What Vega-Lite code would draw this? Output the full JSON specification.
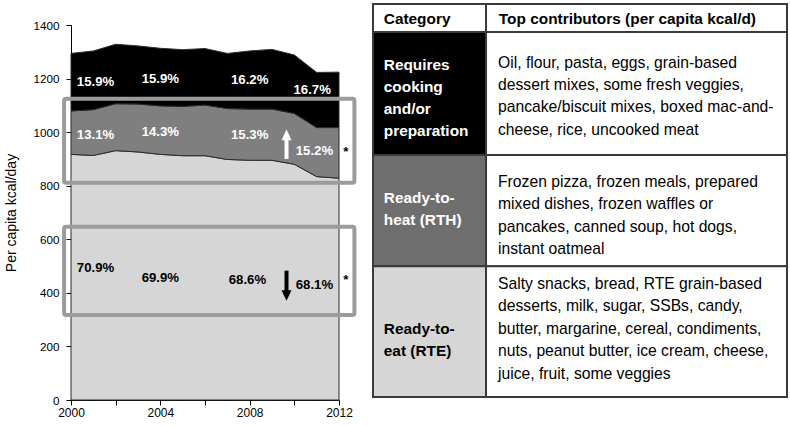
{
  "$schema": "https://vega.github.io/schema/vega-lite/v6.json",
  "background": "white",
  "padding": {"left": 4, "top": 3, "right": 3, "bottom": 4},
  "bounds": "flush",
  "spacing": 34,
  "config": {"view": {"stroke": null}, "font": "Liberation Sans"},
  "datasets": {
    "kcal": [
      {"year": 2000, "category": "Ready-to-eat (RTE)", "kcal": 917},
      {"year": 2001, "category": "Ready-to-eat (RTE)", "kcal": 913},
      {"year": 2002, "category": "Ready-to-eat (RTE)", "kcal": 931},
      {"year": 2003, "category": "Ready-to-eat (RTE)", "kcal": 926},
      {"year": 2004, "category": "Ready-to-eat (RTE)", "kcal": 917},
      {"year": 2005, "category": "Ready-to-eat (RTE)", "kcal": 912},
      {"year": 2006, "category": "Ready-to-eat (RTE)", "kcal": 912},
      {"year": 2007, "category": "Ready-to-eat (RTE)", "kcal": 898},
      {"year": 2008, "category": "Ready-to-eat (RTE)", "kcal": 895},
      {"year": 2009, "category": "Ready-to-eat (RTE)", "kcal": 895},
      {"year": 2010, "category": "Ready-to-eat (RTE)", "kcal": 880},
      {"year": 2011, "category": "Ready-to-eat (RTE)", "kcal": 834},
      {"year": 2012, "category": "Ready-to-eat (RTE)", "kcal": 828},
      {"year": 2000, "category": "Ready-to-heat (RTH)", "kcal": 162},
      {"year": 2001, "category": "Ready-to-heat (RTH)", "kcal": 171},
      {"year": 2002, "category": "Ready-to-heat (RTH)", "kcal": 175},
      {"year": 2003, "category": "Ready-to-heat (RTH)", "kcal": 179},
      {"year": 2004, "category": "Ready-to-heat (RTH)", "kcal": 181},
      {"year": 2005, "category": "Ready-to-heat (RTH)", "kcal": 184},
      {"year": 2006, "category": "Ready-to-heat (RTH)", "kcal": 189},
      {"year": 2007, "category": "Ready-to-heat (RTH)", "kcal": 190},
      {"year": 2008, "category": "Ready-to-heat (RTH)", "kcal": 191},
      {"year": 2009, "category": "Ready-to-heat (RTH)", "kcal": 191},
      {"year": 2010, "category": "Ready-to-heat (RTH)", "kcal": 190},
      {"year": 2011, "category": "Ready-to-heat (RTH)", "kcal": 183},
      {"year": 2012, "category": "Ready-to-heat (RTH)", "kcal": 189},
      {"year": 2000, "category": "Requires cooking and/or preparation", "kcal": 215},
      {"year": 2001, "category": "Requires cooking and/or preparation", "kcal": 219},
      {"year": 2002, "category": "Requires cooking and/or preparation", "kcal": 222},
      {"year": 2003, "category": "Requires cooking and/or preparation", "kcal": 217},
      {"year": 2004, "category": "Requires cooking and/or preparation", "kcal": 215},
      {"year": 2005, "category": "Requires cooking and/or preparation", "kcal": 212},
      {"year": 2006, "category": "Requires cooking and/or preparation", "kcal": 211},
      {"year": 2007, "category": "Requires cooking and/or preparation", "kcal": 206},
      {"year": 2008, "category": "Requires cooking and/or preparation", "kcal": 217},
      {"year": 2009, "category": "Requires cooking and/or preparation", "kcal": 223},
      {"year": 2010, "category": "Requires cooking and/or preparation", "kcal": 218},
      {"year": 2011, "category": "Requires cooking and/or preparation", "kcal": 206},
      {"year": 2012, "category": "Requires cooking and/or preparation", "kcal": 207}
    ],
    "pct": [
      {"year": 2001.1, "kcal": 1188, "label": "15.9%", "grp": "Cook"},
      {"year": 2004.0, "kcal": 1200, "label": "15.9%", "grp": "Cook"},
      {"year": 2008.0, "kcal": 1194, "label": "16.2%", "grp": "Cook"},
      {"year": 2010.8, "kcal": 1157, "label": "16.7%", "grp": "Cook"},
      {"year": 2001.1, "kcal": 989, "label": "13.1%", "grp": "RTH"},
      {"year": 2004.0, "kcal": 1001, "label": "14.3%", "grp": "RTH"},
      {"year": 2008.0, "kcal": 989, "label": "15.3%", "grp": "RTH"},
      {"year": 2010.9, "kcal": 930, "label": "15.2%", "grp": "RTH"},
      {"year": 2001.1, "kcal": 492, "label": "70.9%", "grp": "RTE"},
      {"year": 2004.0, "kcal": 455, "label": "69.9%", "grp": "RTE"},
      {"year": 2007.9, "kcal": 448, "label": "68.6%", "grp": "RTE"},
      {"year": 2010.9, "kcal": 429, "label": "68.1%", "grp": "RTE"},
      {"year": 2012.3, "kcal": 926, "label": "*", "grp": "Star"},
      {"year": 2012.3, "kcal": 448, "label": "*", "grp": "Star"}
    ],
    "shafts": [
      {"year": 2009.65, "kcal": 900, "kcal2": 975, "dir": "up"},
      {"year": 2009.65, "kcal": 483, "kcal2": 405, "dir": "down"}
    ],
    "heads": [
      {"year": 2009.65, "kcal": 970, "dir": "up"},
      {"year": 2009.65, "kcal": 410, "dir": "down"}
    ],
    "frames": [
      {"year": 1999.69, "year2": 2012.69, "kcal": 811, "kcal2": 1125},
      {"year": 1999.69, "year2": 2012.69, "kcal": 317, "kcal2": 647}
    ],
    "cells": [
      {"x0": 0, "x1": 27.3, "y0": 0, "y1": 7.1, "shade": "plain"},
      {"x0": 27.3, "x1": 100, "y0": 0, "y1": 7.1, "shade": "plain"},
      {"x0": 0, "x1": 27.3, "y0": 7.1, "y1": 38.4, "shade": "cook"},
      {"x0": 27.3, "x1": 100, "y0": 7.1, "y1": 38.4, "shade": "plain"},
      {"x0": 0, "x1": 27.3, "y0": 38.4, "y1": 66.7, "shade": "rth"},
      {"x0": 27.3, "x1": 100, "y0": 38.4, "y1": 66.7, "shade": "plain"},
      {"x0": 0, "x1": 27.3, "y0": 66.7, "y1": 100, "shade": "rte"},
      {"x0": 27.3, "x1": 100, "y0": 66.7, "y1": 100, "shade": "plain"}
    ],
    "ttext": [
      {"tx": 2.6, "ty": 3.82, "txt": "Category", "role": "head"},
      {"tx": 30.4, "ty": 3.82, "txt": "Top contributors (per capita kcal/d)", "role": "head"},
      {"tx": 2.6, "ty": 15.6, "txt": "Requires\ncooking\nand/or\npreparation", "role": "catWhite"},
      {"tx": 2.6, "ty": 49.3, "txt": "Ready-to-\nheat (RTH)", "role": "catWhite"},
      {"tx": 2.6, "ty": 82.6, "txt": "Ready-to-\neat (RTE)", "role": "catBlack"},
      {"tx": 30.2, "ty": 14.9, "txt": "Oil, flour, pasta, eggs, grain-based\ndessert mixes, some fresh veggies,\npancake/biscuit mixes, boxed mac-and-\ncheese, rice, uncooked meat", "role": "body"},
      {"tx": 30.2, "ty": 45.3, "txt": "Frozen pizza, frozen meals, prepared\nmixed dishes, frozen waffles or\npancakes, canned soup, hot dogs,\ninstant oatmeal", "role": "body"},
      {"tx": 30.2, "ty": 71.25, "txt": "Salty snacks, bread, RTE grain-based\ndesserts, milk, sugar, SSBs, candy,\nbutter, margarine, cereal, condiments,\nnuts, peanut butter, ice cream, cheese,\njuice, fruit, some veggies", "role": "body"}
    ]
  },
  "hconcat": [
    {
      "width": 268,
      "height": 396,
      "layer": [
        {
          "data": {"name": "kcal"},
          "mark": {"type": "area", "stroke": "#2a2a2a", "strokeWidth": 1, "interpolate": "linear"},
          "encoding": {
            "x": {
              "field": "year", "type": "quantitative",
              "scale": {"domain": [2000, 2012], "nice": false, "zero": false},
              "axis": {
                "title": null, "values": [2000, 2001, 2002, 2003, 2004, 2005, 2006, 2007, 2008, 2009, 2010, 2011, 2012],
                "format": "d", "labelExpr": "datum.value % 4 === 0 ? datum.label : ''",
                "labelOverlap": false, "labelFlush": false, "grid": false,
                "tickSize": 5, "tickColor": "#000", "domainColor": "#000", "labelColor": "#000",
                "labelFontSize": 12, "labelPadding": 2, "labelFont": "Liberation Sans"
              }
            },
            "y": {
              "field": "kcal", "type": "quantitative", "stack": "zero",
              "scale": {"domain": [0, 1400], "range": [396, 21], "nice": false},
              "axis": {
                "title": "Per capita kcal/day", "values": [0, 200, 400, 600, 800, 1000, 1200, 1400],
                "format": "d", "labelFlush": false, "labelOverlap": false, "grid": false,
                "tickSize": 5, "tickColor": "#000", "domainColor": "#000", "labelColor": "#000",
                "labelFontSize": 11.7, "labelPadding": 7, "labelFont": "Liberation Sans",
                "titleFontSize": 14, "titleFontWeight": "normal", "titleColor": "#000", "titlePadding": 14, "titleFont": "Liberation Sans"
              }
            },
            "color": {
              "field": "category", "type": "nominal",
              "scale": {"domain": ["Ready-to-eat (RTE)", "Ready-to-heat (RTH)", "Requires cooking and/or preparation"], "range": ["#d6d6d6", "#7f7f7f", "#000000"]},
              "legend": null
            },
            "order": {"field": "category", "sort": "ascending"}
          }
        },
        {
          "data": {"name": "pct"},
          "transform": [{"filter": "datum.grp === 'Cook' || datum.grp === 'RTH'"}],
          "mark": {"type": "text", "fontSize": 13.2, "fontWeight": "bold", "color": "#ffffff", "align": "center", "baseline": "middle"},
          "encoding": {
            "x": {"field": "year", "type": "quantitative"},
            "y": {"field": "kcal", "type": "quantitative"},
            "text": {"field": "label"}
          }
        },
        {
          "data": {"name": "pct"},
          "transform": [{"filter": "datum.grp === 'RTE' || datum.grp === 'Star'"}],
          "mark": {"type": "text", "fontSize": 13.2, "fontWeight": "bold", "color": "#000000", "align": "center", "baseline": "middle"},
          "encoding": {
            "x": {"field": "year", "type": "quantitative"},
            "y": {"field": "kcal", "type": "quantitative"},
            "text": {"field": "label"}
          }
        },
        {
          "data": {"name": "shafts"},
          "mark": {"type": "rule", "strokeWidth": 4},
          "encoding": {
            "x": {"field": "year", "type": "quantitative"},
            "y": {"field": "kcal", "type": "quantitative"},
            "y2": {"field": "kcal2"},
            "stroke": {"field": "dir", "type": "nominal", "scale": {"domain": ["up", "down"], "range": ["#ffffff", "#000000"]}, "legend": null}
          }
        },
        {
          "data": {"name": "heads"},
          "transform": [{"filter": "datum.dir === 'up'"}],
          "mark": {"type": "point", "shape": "M-1,0L1,0L0,-2.2Z", "filled": true, "size": 100, "color": "#ffffff", "strokeWidth": 0, "opacity": 1},
          "encoding": {
            "x": {"field": "year", "type": "quantitative"},
            "y": {"field": "kcal", "type": "quantitative"}
          }
        },
        {
          "data": {"name": "heads"},
          "transform": [{"filter": "datum.dir === 'down'"}],
          "mark": {"type": "point", "shape": "M-1,0L1,0L0,2.1Z", "filled": true, "size": 100, "color": "#000000", "strokeWidth": 0, "opacity": 1},
          "encoding": {
            "x": {"field": "year", "type": "quantitative"},
            "y": {"field": "kcal", "type": "quantitative"}
          }
        },
        {
          "data": {"name": "frames"},
          "mark": {"type": "rect", "fill": null, "fillOpacity": 0, "stroke": "#9c9c9c", "strokeWidth": 4, "cornerRadius": 2},
          "encoding": {
            "x": {"field": "year", "type": "quantitative"},
            "x2": {"field": "year2"},
            "y": {"field": "kcal", "type": "quantitative"},
            "y2": {"field": "kcal2"}
          }
        }
      ]
    },
    {
      "width": 414,
      "height": 393,
      "layer": [
        {
          "data": {"name": "cells"},
          "mark": {"type": "rect", "stroke": "#3a3a3a", "strokeWidth": 2},
          "encoding": {
            "x": {"field": "x0", "type": "quantitative", "scale": {"domain": [0, 100], "nice": false}, "axis": null},
            "x2": {"field": "x1"},
            "y": {"field": "y0", "type": "quantitative", "scale": {"domain": [0, 100], "nice": false, "reverse": true}, "axis": null},
            "y2": {"field": "y1"},
            "fill": {"field": "shade", "type": "nominal", "scale": {"domain": ["plain", "cook", "rth", "rte"], "range": ["#ffffff", "#000000", "#6e6e6e", "#d6d6d6"]}, "legend": null}
          }
        },
        {
          "data": {"name": "ttext"},
          "transform": [{"filter": "datum.role === 'head'"}],
          "mark": {"type": "text", "fontSize": 15.4, "fontWeight": "bold", "color": "#000000", "align": "left", "baseline": "middle", "lineBreak": "\n", "lineHeight": 22},
          "encoding": {
            "x": {"field": "tx", "type": "quantitative"},
            "y": {"field": "ty", "type": "quantitative"},
            "text": {"field": "txt"}
          }
        },
        {
          "data": {"name": "ttext"},
          "transform": [{"filter": "datum.role === 'catWhite'"}],
          "mark": {"type": "text", "fontSize": 15.4, "fontWeight": "bold", "color": "#ffffff", "align": "left", "baseline": "middle", "lineBreak": "\n", "lineHeight": 22},
          "encoding": {
            "x": {"field": "tx", "type": "quantitative"},
            "y": {"field": "ty", "type": "quantitative"},
            "text": {"field": "txt"}
          }
        },
        {
          "data": {"name": "ttext"},
          "transform": [{"filter": "datum.role === 'catBlack'"}],
          "mark": {"type": "text", "fontSize": 15.4, "fontWeight": "bold", "color": "#000000", "align": "left", "baseline": "middle", "lineBreak": "\n", "lineHeight": 22},
          "encoding": {
            "x": {"field": "tx", "type": "quantitative"},
            "y": {"field": "ty", "type": "quantitative"},
            "text": {"field": "txt"}
          }
        },
        {
          "data": {"name": "ttext"},
          "transform": [{"filter": "datum.role === 'body'"}],
          "mark": {"type": "text", "fontSize": 15.7, "fontWeight": "normal", "color": "#000000", "align": "left", "baseline": "middle", "lineBreak": "\n", "lineHeight": 22.4},
          "encoding": {
            "x": {"field": "tx", "type": "quantitative"},
            "y": {"field": "ty", "type": "quantitative"},
            "text": {"field": "txt"}
          }
        }
      ]
    }
  ]
}
